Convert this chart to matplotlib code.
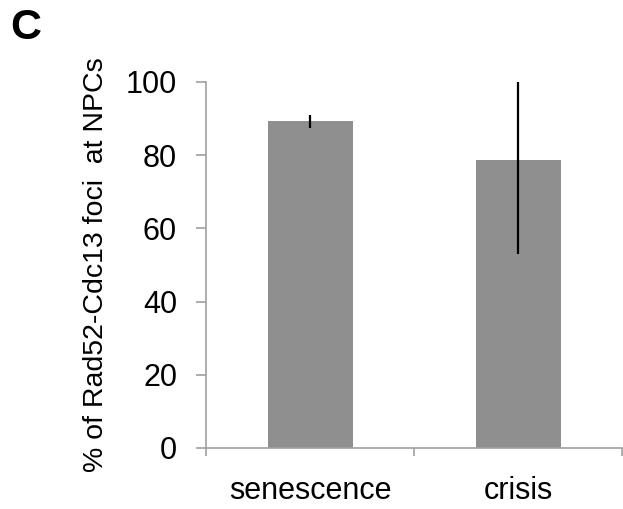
import matplotlib.pyplot as plt

plt.rcParams['font.family'] = ['Liberation Sans', 'DejaVu Sans']

# Percent of Rad52-Cdc13 foci at NPCs, mean and error
categories = ["senescence", "crisis"]
means = [89.2, 78.8]
errors = [1.9, 25.8]

fig = plt.figure(figsize=(6.23, 5.09), dpi=100)
ax = fig.add_axes([0.331, 0.12, 0.668, 0.719])

x = range(len(categories))
ax.bar(x, means, width=0.41, color="#8f8f8f")
ax.errorbar(x, means, yerr=errors, fmt="none", ecolor="black", elinewidth=1.6, capsize=0)

ax.set_xlim(-0.5, 1.5)
ax.set_ylim(0, 100)
ax.set_yticks([0, 20, 40, 60, 80, 100])
ax.set_xticks(list(x))
ax.set_xticklabels(categories)
ax.set_xticks([-0.5, 0.5, 1.5], minor=True)

axis_grey = "#a0a0a0"
for side in ["top", "right"]:
    ax.spines[side].set_visible(False)
for side in ["left", "bottom"]:
    ax.spines[side].set_color(axis_grey)
    ax.spines[side].set_linewidth(1.2)

ax.tick_params(axis="y", direction="out", length=7, width=1.2, color=axis_grey,
               labelsize=22, pad=14)
ax.tick_params(axis="x", which="major", length=0, labelsize=22, pad=20)
ax.tick_params(axis="x", which="minor", direction="out", length=6, width=1.2,
               color=axis_grey)

ax.set_ylabel("% of Rad52-Cdc13 foci  at NPCs", fontsize=20.5, labelpad=12)

fig.text(0.016, 0.985, "C", fontsize=31, fontweight="bold", va="top", ha="left")

fig.savefig("out.png", dpi=100)
